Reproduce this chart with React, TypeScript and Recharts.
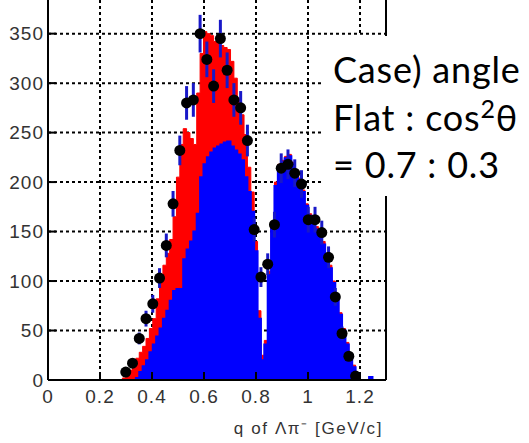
import React from "react";
import {
  ComposedChart,
  Area,
  Scatter,
  ErrorBar,
  XAxis,
  YAxis,
  CartesianGrid,
  ReferenceLine,
} from "recharts";

// MC histograms: fine bins of width 0.013 starting at q = 0.273
const mcLow = 0.273;
const mcBin = 0.013;
// total (flat + cos^2)
const redCounts = [
  0, 2, 6, 10, 16, 22, 28, 34, 42, 52,
  62, 82, 104, 116, 128, 142, 165, 205, 238, 254,
  250, 244, 238, 290, 330, 352, 350, 348, 342, 340,
  338, 336, 334, 322, 305, 285, 268, 248, 215, 190,
  140, 70, 25, 40, 110, 160, 200, 218, 222, 226,
  228, 220, 212, 204, 192, 178, 168, 160, 155, 148,
  140, 128, 116, 100, 84, 68, 52, 38, 26, 15,
  6, 0, 0, 0, 3, 0, 0, 0, 0, 0,
];
// flat component
const blueCounts = [
  0, 0, 0, 0, 0, 2, 8, 14, 20, 28,
  36, 44, 52, 62, 70, 80, 90, 92, 92, 122,
  132, 140, 150, 168, 205, 218, 225, 230, 234, 236,
  238, 240, 241, 236, 232, 228, 222, 205, 190, 170,
  130, 62, 20, 36, 106, 155, 196, 215, 220, 224,
  226, 218, 210, 202, 190, 176, 166, 158, 152, 146,
  137, 126, 113, 98, 82, 66, 50, 36, 24, 13,
  5, 0, 0, 0, 3, 0, 0, 0, 0, 0,
];

// data points (bin width 0.026)
const qData = [
  0.299, 0.325, 0.351, 0.377, 0.403, 0.429, 0.455, 0.481, 0.507, 0.533,
  0.559, 0.585, 0.611, 0.637, 0.663, 0.689, 0.715, 0.741, 0.767, 0.793,
  0.819, 0.845, 0.871, 0.897, 0.923, 0.949, 0.975, 1.001, 1.027, 1.053,
  1.079, 1.105, 1.131, 1.157, 1.183,
];
const nData = [
  8, 17, 42, 62, 77, 103, 136, 178, 232, 280,
  283, 350, 324, 297, 345, 313, 283, 275, 242, 152,
  104, 117, 157, 214, 218, 209, 198, 162, 162, 149,
  124, 84, 47, 24, 4,
];
const errData = [
  3, 4, 6, 8, 9, 10, 12, 13, 15, 17,
  17, 19, 18, 17, 19, 18, 17, 17, 16, 12,
  10, 11, 13, 15, 15, 14, 14, 13, 13, 12,
  11, 9, 7, 5, 2,
];

const xTicks = [0, 0.2, 0.4, 0.6, 0.8, 1, 1.2];
const yTicks = [0, 50, 100, 150, 200, 250, 300, 350];
const xGrid = [0.2, 0.4, 0.6, 0.8, 1, 1.2];
const yGrid = [50, 100, 150, 200, 250, 300, 350];
const xMinor = Array.from({ length: 26 }, (_, i) => +(i * 0.05).toFixed(2));
const yMinor = Array.from({ length: 77 }, (_, i) => i * 5);

const mcRows = [
  { q: 0, red: 0, blue: 0 },
  ...redCounts.map((r, i) => ({
    q: +(mcLow + i * mcBin).toFixed(3),
    red: r,
    blue: blueCounts[i],
  })),
];
const points = qData.map((q, i) => ({ q, n: nData[i], err: errData[i] }));

const tickFont = {
  fill: "#333",
  fontSize: 19,
  fontFamily: "'Liberation Sans', Arial, sans-serif",
  letterSpacing: 1,
};

const noteFont = {
  fontSize: 36,
  fontFamily: "Lato, 'Open Sans', sans-serif",
  letterSpacing: 0.8,
  fill: "#000",
};

const Dot = (p: any) => <circle cx={p.cx} cy={p.cy} r={5.5} fill="#000" />;

export default function App() {
  return (
    <div
      style={{
        position: "absolute",
        left: 0,
        top: 0,
        width: 529,
        height: 443,
        overflow: "hidden",
        background: "#fff",
      }}
    >
      <ComposedChart
        width={529}
        height={443}
        data={mcRows}
        margin={{ top: 0, right: 143, bottom: 0, left: 0 }}
      >
        <CartesianGrid
          xAxisId="x"
          yAxisId="y"
          horizontalValues={yGrid}
          verticalValues={xGrid}
          stroke="#000"
          strokeWidth={2}
          strokeDasharray="3 3"
        />
        <XAxis
          xAxisId="x"
          dataKey="q"
          type="number"
          domain={[0, 1.3]}
          allowDataOverflow
          ticks={xTicks}
          interval={0}
          height={63}
          tickSize={-8}
          tickMargin={18}
          tickLine={{ stroke: "#000", strokeWidth: 2 }}
          axisLine={{ stroke: "#000", strokeWidth: 2 }}
          tick={tickFont}
        />
        <XAxis
          xAxisId="xm"
          dataKey="q"
          type="number"
          domain={[0, 1.3]}
          allowDataOverflow
          ticks={xMinor}
          interval={0}
          height={0}
          tickSize={-5}
          tick={false}
          axisLine={false}
          tickLine={{ stroke: "#000", strokeWidth: 2 }}
        />
        <YAxis
          yAxisId="y"
          type="number"
          domain={[0, 384]}
          allowDataOverflow
          ticks={yTicks}
          interval={0}
          width={48}
          tickSize={-8}
          tickMargin={12}
          tickLine={{ stroke: "#000", strokeWidth: 2 }}
          axisLine={{ stroke: "#000", strokeWidth: 2 }}
          tick={tickFont}
        />
        <YAxis
          yAxisId="ym"
          type="number"
          domain={[0, 384]}
          allowDataOverflow
          ticks={yMinor}
          interval={0}
          width={0}
          tickSize={-4}
          tick={false}
          axisLine={false}
          tickLine={{ stroke: "#000", strokeWidth: 2 }}
        />
        <Area
          xAxisId="x"
          yAxisId="y"
          type="stepAfter"
          dataKey="red"
          fill="#ff0000"
          fillOpacity={1}
          stroke="#ff0000"
          strokeWidth={1}
          dot={false}
          activeDot={false}
          isAnimationActive={false}
        />
        <Area
          xAxisId="x"
          yAxisId="y"
          type="stepAfter"
          dataKey="blue"
          fill="#0000ff"
          fillOpacity={1}
          stroke="#0000ff"
          strokeWidth={2}
          dot={false}
          activeDot={false}
          isAnimationActive={false}
        />
        <ReferenceLine xAxisId="x" yAxisId="y" x={1.3} stroke="#000" strokeWidth={2} />
        <Scatter
          xAxisId="x"
          yAxisId="y"
          data={points}
          dataKey="n"
          shape={Dot}
          isAnimationActive={false}
        >
          <ErrorBar dataKey="err" direction="y" width={0} stroke="#1818c8" strokeWidth={3} />
        </Scatter>
      </ComposedChart>
      <svg
        width={529}
        height={443}
        style={{ position: "absolute", left: 0, top: 0, pointerEvents: "none" }}
      >
        <rect x={323} y={36} width={206} height={160} fill="#fff" />
        <text x={333} y={83} {...noteFont}>
          Case) angle
        </text>
        <text x={333} y={130.5} {...noteFont}>
          Flat : cos
          <tspan fontSize={25} dy={-13}>
            2
          </tspan>
          <tspan dy={13}>θ</tspan>
        </text>
        <text x={333} y={178} {...noteFont}>
          = 0.7 : 0.3
        </text>
        <text
          x={383}
          y={434}
          textAnchor="end"
          fontSize={17}
          letterSpacing={1.6}
          fontFamily="'Liberation Sans', Arial, sans-serif"
          fill="#333"
        >
          q of Λπ⁻ [GeV/c]
        </text>
        <text x={63} y={484} fontSize={52} fontFamily="Lato, sans-serif" fill="#000">
          Contribution of Signal
        </text>
      </svg>
    </div>
  );
}
